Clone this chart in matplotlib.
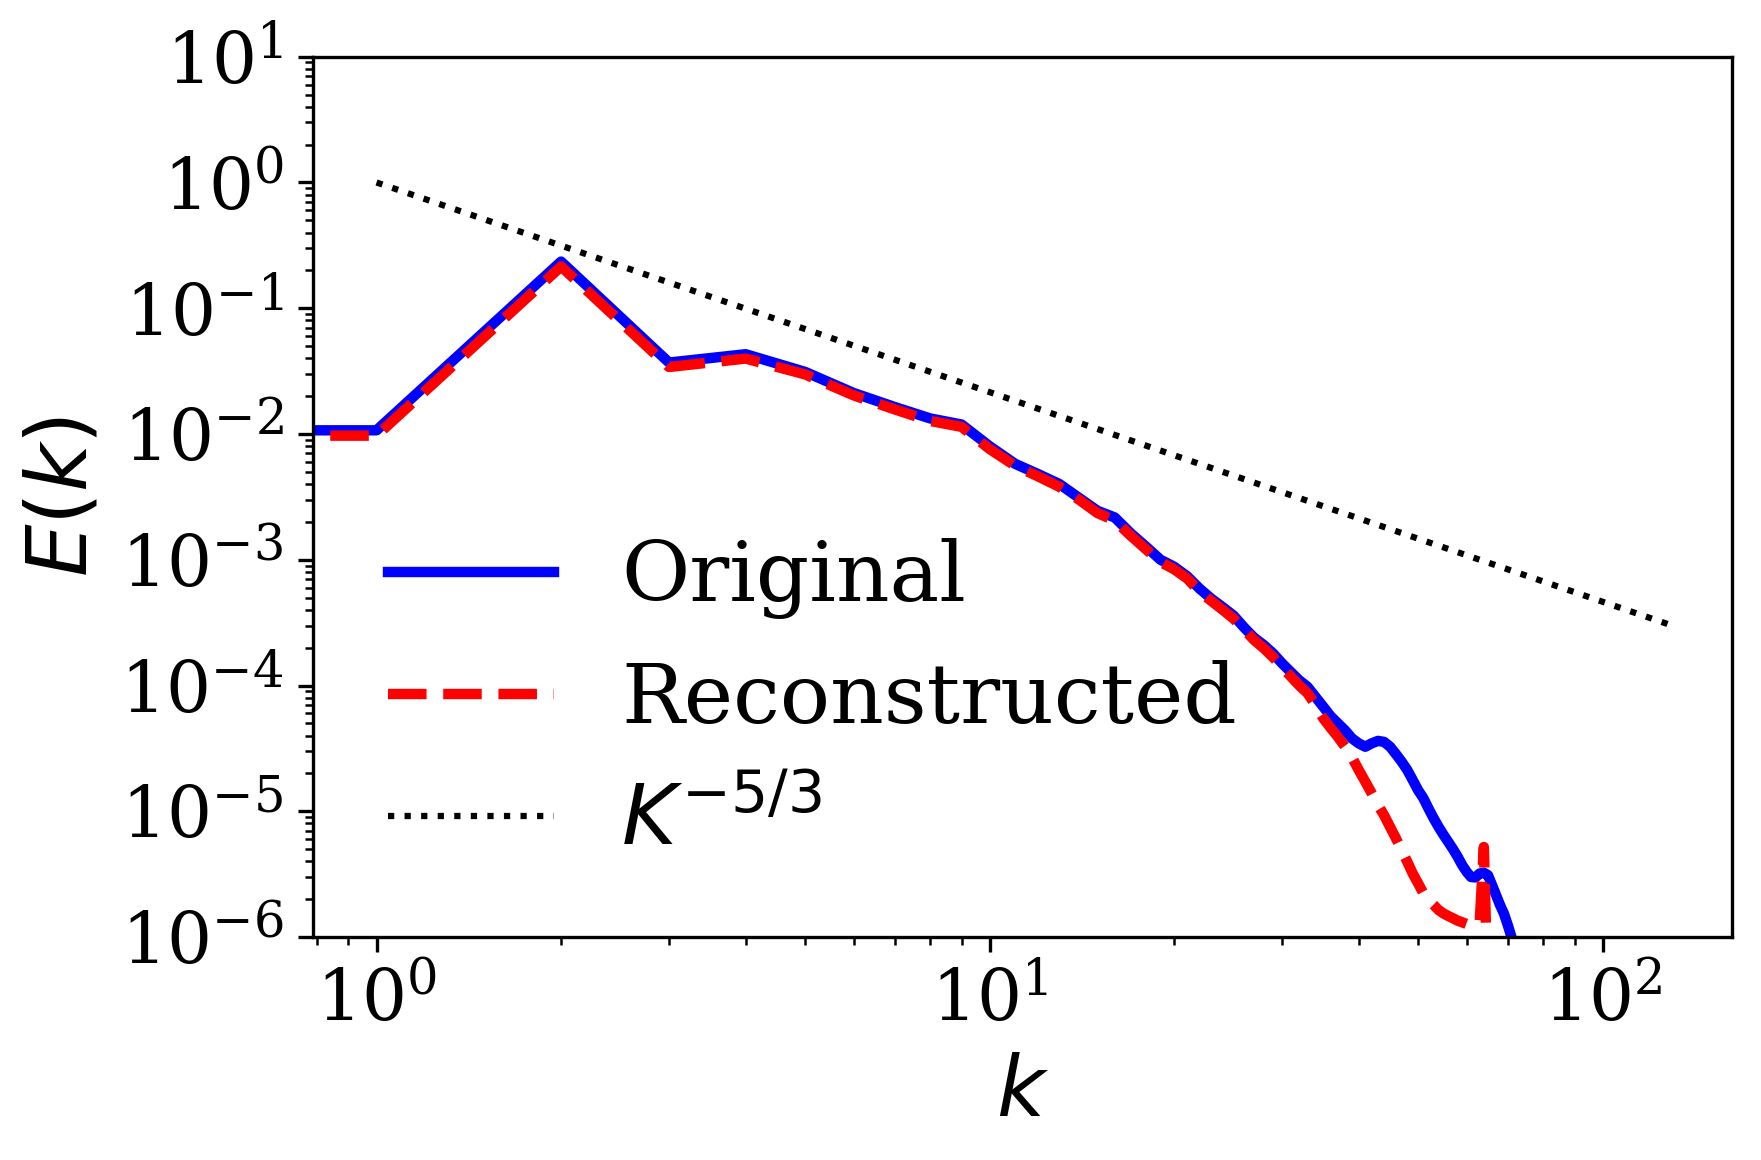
import numpy as np
import matplotlib
matplotlib.use('Agg')
import matplotlib.pyplot as plt
from matplotlib.ticker import LogLocator, NullFormatter

plt.rcParams['font.family'] = 'serif'

# wavenumbers of the shell spectrum
k = list(range(0, 75))

# original spectrum E(k)
E_orig = [0.0107, 0.0107, 0.235, 0.037, 0.0431, 0.0312, 0.0212, 0.0164, 0.0133, 0.0119,
          0.0080, 0.0058, 0.0048, 0.0040, 0.0031, 0.00245, 0.00217, 0.00162, 0.00127, 0.00100,
          0.00088, 0.00074, 0.00059, 0.00049, 0.00042, 0.00036, 0.00029, 0.00024, 0.00021, 0.00018,
          0.00015, 0.000128, 0.000110, 9.77e-5, 8.13e-5, 6.8e-5, 5.7e-5, 5.0e-5, 4.4e-5, 3.8e-5,
          3.47e-5, 3.26e-5, 3.47e-5, 3.63e-5, 3.56e-5, 3.26e-5, 2.85e-5, 2.48e-5, 2.13e-5, 1.77e-5,
          1.47e-5, 1.27e-5, 1.05e-5, 8.8e-6, 7.5e-6, 6.5e-6, 5.7e-6, 5.0e-6, 4.35e-6, 3.73e-6,
          3.3e-6, 3.0e-6, 2.98e-6, 3.2e-6, 3.25e-6, 3.1e-6, 2.59e-6, 2.16e-6, 1.8e-6, 1.54e-6,
          1.25e-6, 1.0e-6, 8e-7, 6.3e-7, 5e-7]

# reconstructed spectrum
E_rec = [0.0097, 0.0097, 0.215, 0.0341, 0.0398, 0.0298, 0.0203, 0.0157, 0.0127, 0.0114,
         0.0076, 0.0056, 0.0046, 0.0038, 0.0030, 0.00235, 0.00205, 0.00155, 0.00121, 0.00096,
         0.00084, 0.00071, 0.00056, 0.00047, 0.00040, 0.00034, 0.00028, 0.00023, 0.000198, 0.000168,
         0.000140, 0.000118, 0.000100, 8.7e-5, 7.0e-5, 5.5e-5, 4.6e-5, 3.9e-5, 3.26e-5, 2.69e-5,
         2.13e-5, 1.72e-5, 1.39e-5, 1.12e-5, 9.3e-6, 7.5e-6, 6.1e-6, 4.9e-6, 3.97e-6, 3.2e-6,
         2.67e-6, 2.23e-6, 1.97e-6, 1.8e-6, 1.64e-6, 1.54e-6, 1.47e-6, 1.41e-6, 1.35e-6, 1.31e-6,
         1.27e-6, 1.24e-6, 1.25e-6, 1.3e-6, 5.2e-6, 3e-7, 1e-8, 1e-8, 1e-8, 1e-8,
         1e-8, 1e-8, 1e-8, 1e-8, 1e-8]

# reference slope line end points
k_ref = [1, 128]
E_ref = [1.0, 3.07e-4]

fig = plt.figure(figsize=(1761 / 300, 1160 / 300), dpi=300)
ax = fig.add_axes([0.1776, 0.1922, 0.9835 - 0.1776, 0.9511 - 0.1922])

ax.loglog(k, E_orig, color='blue', lw=2.5, label='Original')
ax.loglog(k, E_rec, color='red', lw=2.5, ls='--', label='Reconstructed')
ax.loglog(k_ref, E_ref, color='black', lw=1.5, ls=':', label='$K^{-5/3}$')

ax.set_xlim(0.787, 162.5)
ax.set_ylim(1e-6, 1e1)
# one label per decade on the y axis, as in the original
ax.yaxis.set_major_locator(LogLocator(base=10, numticks=20))
ax.yaxis.set_minor_locator(LogLocator(base=10, subs=np.arange(2, 10), numticks=20))
ax.yaxis.set_minor_formatter(NullFormatter())
ax.set_xlabel('$k$', fontsize=20)
ax.set_ylabel('$E(k)$', fontsize=20)
ax.tick_params(labelsize=17)
ax.legend(loc='lower left', fontsize=20, frameon=False)

fig.savefig('out.png', dpi=300)
